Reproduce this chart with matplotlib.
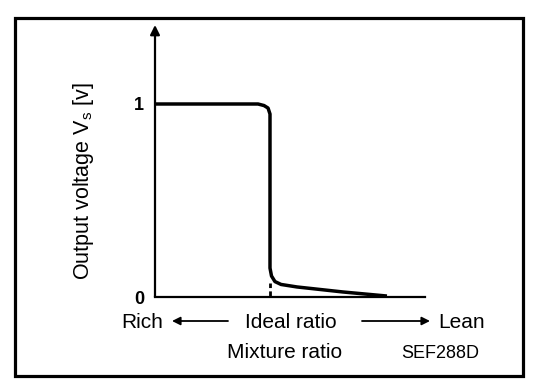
import matplotlib
matplotlib.use("Agg")
import matplotlib.pyplot as plt
from matplotlib.patches import Rectangle, FancyArrowPatch

# O2 sensor output vs mixture ratio (x in arbitrary units, ideal ratio = 1.0)
mix_ratio = [0.0, 0.896, 0.948, 0.983, 1.0, 1.0, 1.013, 1.043, 1.096, 1.235, 1.635, 2.017]
voltage = [1.0, 1.0, 0.992, 0.979, 0.948, 0.150, 0.109, 0.080, 0.065, 0.052, 0.026, 0.005]
ideal_x = 1.0
ideal_mark_top = 0.075
ytick_vals = [0, 1]
ytick_labels = ["0", "1"]

W, H = 560, 388
FONT = ["Liberation Sans", "DejaVu Sans"]
plt.rcParams["font.family"] = FONT


def fx(px):
    return px / W


def fy(py):
    return 1 - py / H


fig = plt.figure(figsize=(5.6, 3.88), dpi=100)

# outer frame
fig.patches.append(Rectangle((fx(15), fy(376)), fx(523) - fx(15), fy(17.5) - fy(376),
                             transform=fig.transFigure, fill=False, lw=2.3, ec="black"))

left, right, bottom, top = 155, 425, 297, 25
ax = fig.add_axes([fx(left), fy(bottom), fx(right) - fx(left), fy(top) - fy(bottom)])
ax.set_xlim(0, (right - left) / 115)
ax.set_ylim(0, (bottom - top) / 193)

ax.plot(mix_ratio, voltage, color="black", lw=2.5, solid_joinstyle="round",
        solid_capstyle="butt")
ax.plot([ideal_x, ideal_x], [0, ideal_mark_top], color="black", lw=2,
        linestyle=(0, (2.2, 1.2)))

for s in ["top", "right", "left"]:
    ax.spines[s].set_visible(False)
ax.spines["bottom"].set_linewidth(1.6)

# y axis drawn as an arrow
ax.annotate("", xy=(0, ax.get_ylim()[1]), xytext=(0, 0),
            arrowprops=dict(arrowstyle="-|>", lw=1.6, color="black",
                            mutation_scale=14, shrinkA=0, shrinkB=0),
            annotation_clip=False)

ax.set_xticks([])
ax.set_yticks(ytick_vals)
ax.set_yticklabels(ytick_labels, fontsize=13, fontweight="bold")
ax.tick_params(axis="y", length=0, pad=8)

fig.text(fx(84), fy(181), r"Output voltage V$_\mathregular{s}$ [v]", rotation=90,
         ha="center", va="center", fontsize=15.5)

fig.text(fx(142), fy(323), "Rich", ha="center", va="center", fontsize=15)
fig.text(fx(291), fy(323), "Ideal ratio", ha="center", va="center", fontsize=15)
fig.text(fx(462), fy(323), "Lean", ha="center", va="center", fontsize=15)
fig.text(fx(285), fy(352), "Mixture ratio", ha="center", va="center", fontsize=15)
fig.text(fx(440), fy(353), "SEF288D", ha="center", va="center", fontsize=13)

arrow_kw = dict(arrowstyle="-|>", lw=1.3, color="black", mutation_scale=12,
                shrinkA=0, shrinkB=0)
fig.add_artist(FancyArrowPatch((fx(228), fy(321)), (fx(172), fy(321)),
                               transform=fig.transFigure, **arrow_kw))
fig.add_artist(FancyArrowPatch((fx(362), fy(321)), (fx(430), fy(321)),
                               transform=fig.transFigure, **arrow_kw))

fig.savefig("out.png", dpi=100)
